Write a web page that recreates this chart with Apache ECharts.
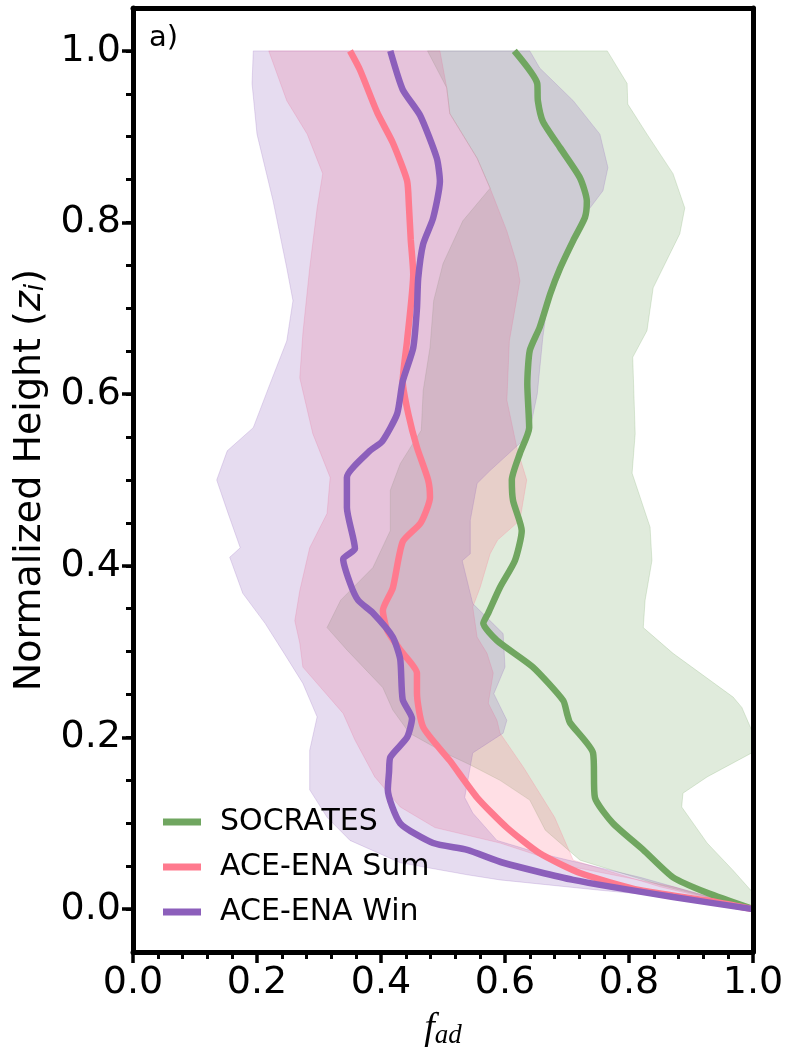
<!DOCTYPE html>
<html lang="en">
<head>
  <meta charset="UTF-8">
  <title>f_ad profiles</title>
  <style>
    html, body { margin: 0; padding: 0; background: #fff; }
    #main { width: 788px; height: 1053px; }
  </style>
</head>
<body>
  <div id="main"></div>
  <script src="https://cdn.jsdelivr.net/npm/echarts@6/dist/echarts.min.js"></script>
  <script>
    // --- data (height z_i, f_ad) ---
    const yTicks = [0, 0.2, 0.4, 0.6, 0.8, 1.0]
    const yMinorTicks = [0, 0.05, 0.1, 0.15, 0.2, 0.25, 0.3, 0.35, 0.4, 0.45, 0.5, 0.55, 0.6, 0.65, 0.7, 0.75, 0.8, 0.85, 0.9, 0.95, 1.0]
    const names = ['SOCRATES', 'ACE-ENA Sum', 'ACE-ENA Win']

    // SOCRATES median line
    const socH = [1.0, 0.962, 0.942, 0.918, 0.887, 0.852, 0.825, 0.806, 0.779, 0.747, 0.717, 0.678, 0.651, 0.612, 0.561, 0.531, 0.50, 0.476, 0.441, 0.406, 0.375, 0.345, 0.333, 0.313, 0.282, 0.243, 0.228, 0.217, 0.182, 0.130, 0.100, 0.069, 0.037, 0.019, 0.0]
    const socF = [0.615, 0.652, 0.653, 0.661, 0.689, 0.721, 0.732, 0.729, 0.710, 0.689, 0.673, 0.656, 0.640, 0.636, 0.639, 0.624, 0.611, 0.613, 0.627, 0.616, 0.592, 0.573, 0.565, 0.587, 0.645, 0.694, 0.700, 0.705, 0.742, 0.745, 0.774, 0.823, 0.871, 0.926, 1.0]
    // ACE-ENA summer median line
    const sumH = [1.0, 0.978, 0.928, 0.893, 0.849, 0.82, 0.78, 0.74, 0.662, 0.615, 0.577, 0.538, 0.5, 0.48, 0.45, 0.428, 0.374, 0.348, 0.325, 0.302, 0.275, 0.252, 0.212, 0.173, 0.13, 0.095, 0.065, 0.042, 0.022, 0.01, 0.0]
    const sumF = [0.350, 0.366, 0.394, 0.419, 0.442, 0.445, 0.448, 0.452, 0.442, 0.435, 0.444, 0.458, 0.476, 0.479, 0.464, 0.435, 0.419, 0.403, 0.410, 0.431, 0.458, 0.458, 0.468, 0.511, 0.555, 0.603, 0.656, 0.721, 0.818, 0.926, 1.0]
    // ACE-ENA winter median line
    const winH = [1.0, 0.955, 0.925, 0.875, 0.848, 0.805, 0.775, 0.735, 0.70, 0.654, 0.615, 0.577, 0.545, 0.534, 0.503, 0.468, 0.42, 0.408, 0.38, 0.36, 0.345, 0.317, 0.291, 0.244, 0.222, 0.200, 0.177, 0.16, 0.139, 0.10, 0.077, 0.069, 0.054, 0.034, 0.014, 0.0]
    const winF = [0.415, 0.435, 0.463, 0.490, 0.495, 0.484, 0.468, 0.460, 0.458, 0.452, 0.435, 0.426, 0.402, 0.382, 0.345, 0.345, 0.358, 0.339, 0.350, 0.363, 0.387, 0.419, 0.431, 0.435, 0.450, 0.442, 0.415, 0.413, 0.411, 0.431, 0.484, 0.539, 0.597, 0.710, 0.871, 1.0]

    // spread bands: lower (lo) and upper (hi) edges, each with its own heights
    const socLoH = [1.0, 0.957, 0.927, 0.875, 0.84, 0.802, 0.752, 0.709, 0.654, 0.604, 0.558, 0.519, 0.488, 0.441, 0.398, 0.36, 0.328, 0.302, 0.258, 0.232, 0.205, 0.182, 0.168, 0.15, 0.127, 0.092, 0.057, 0.028, 0.0]
    const socLo = [0.475, 0.506, 0.511, 0.555, 0.576, 0.532, 0.500, 0.485, 0.479, 0.468, 0.465, 0.431, 0.415, 0.415, 0.387, 0.335, 0.313, 0.345, 0.403, 0.419, 0.446, 0.503, 0.544, 0.592, 0.640, 0.665, 0.721, 0.850, 1.0]
    const socHiH = [1.0, 0.962, 0.938, 0.903, 0.857, 0.817, 0.787, 0.724, 0.674, 0.643, 0.554, 0.508, 0.445, 0.406, 0.36, 0.328, 0.298, 0.247, 0.235, 0.205, 0.182, 0.154, 0.135, 0.119, 0.077, 0.045, 0.019, 0.0]
    const socHi = [0.765, 0.797, 0.798, 0.829, 0.871, 0.890, 0.882, 0.839, 0.829, 0.806, 0.810, 0.805, 0.834, 0.837, 0.826, 0.823, 0.871, 0.968, 0.982, 1.0, 0.998, 0.926, 0.887, 0.885, 0.926, 0.968, 1.0, 1.0]

    const sumLoH = [1.0, 0.942, 0.903, 0.857, 0.817, 0.747, 0.671, 0.619, 0.554, 0.503, 0.461, 0.421, 0.371, 0.336, 0.31, 0.282, 0.228, 0.197, 0.154, 0.119, 0.095, 0.077, 0.049, 0.026, 0.0]
    const sumLo = [0.219, 0.248, 0.281, 0.306, 0.297, 0.285, 0.274, 0.269, 0.290, 0.318, 0.313, 0.285, 0.269, 0.261, 0.269, 0.274, 0.339, 0.358, 0.390, 0.431, 0.487, 0.592, 0.710, 0.871, 1.0]
    const sumHiH = [1.0, 0.957, 0.927, 0.875, 0.84, 0.79, 0.752, 0.732, 0.662, 0.593, 0.538, 0.5, 0.453, 0.43, 0.414, 0.375, 0.352, 0.317, 0.298, 0.275, 0.24, 0.22, 0.205, 0.165, 0.107, 0.057, 0.026, 0.0]
    const sumHi = [0.495, 0.506, 0.511, 0.555, 0.576, 0.603, 0.619, 0.624, 0.607, 0.603, 0.619, 0.635, 0.624, 0.588, 0.576, 0.560, 0.548, 0.555, 0.571, 0.581, 0.573, 0.587, 0.592, 0.630, 0.680, 0.710, 0.850, 1.0]

    const winLoH = [1.0, 0.962, 0.903, 0.825, 0.747, 0.709, 0.662, 0.612, 0.561, 0.534, 0.5, 0.464, 0.421, 0.41, 0.368, 0.333, 0.30, 0.263, 0.224, 0.185, 0.139, 0.107, 0.08, 0.054, 0.04, 0.034, 0.022, 0.014, 0.0]
    const winLo = [0.194, 0.192, 0.200, 0.226, 0.248, 0.258, 0.248, 0.221, 0.194, 0.152, 0.135, 0.152, 0.173, 0.156, 0.177, 0.213, 0.242, 0.274, 0.297, 0.285, 0.285, 0.313, 0.350, 0.431, 0.539, 0.592, 0.753, 0.871, 1.0]
    const winHiH = [1.0, 0.98, 0.942, 0.903, 0.864, 0.837, 0.814, 0.767, 0.709, 0.666, 0.60, 0.558, 0.546, 0.511, 0.496, 0.453, 0.414, 0.406, 0.356, 0.321, 0.282, 0.251, 0.22, 0.205, 0.182, 0.130, 0.112, 0.08, 0.065, 0.037, 0.0]
    const winHi = [0.640, 0.656, 0.710, 0.753, 0.766, 0.758, 0.734, 0.697, 0.669, 0.661, 0.652, 0.640, 0.629, 0.576, 0.555, 0.544, 0.544, 0.531, 0.548, 0.597, 0.600, 0.582, 0.603, 0.597, 0.548, 0.535, 0.548, 0.587, 0.656, 0.818, 1.0]

    const colors = ['#70a660', '#ff7a8e', '#8c5fbb']
    const fills = ['rgba(112,166,96,0.22)', 'rgba(255,110,135,0.22)', 'rgba(140,95,187,0.22)']
    const font = 'DejaVu Sans'

    function pairs(f, h) {
      return f.map((v, i) => [v, h[i]])
    }

    // one polygon per band, corners through the axis scales
    function band(lo, loH, hi, hiH, fill) {
      return function (params, api) {
        const pts = []
        for (let i = 0; i < lo.length; i++) pts.push(api.coord([lo[i], loH[i]]))
        for (let j = hi.length - 1; j >= 0; j--) pts.push(api.coord([hi[j], hiH[j]]))
        return {
          type: 'polygon',
          shape: { points: pts },
          style: { fill: fill, stroke: fill, lineWidth: 1 }
        }
      }
    }

    const myChart = echarts.init(document.getElementById('main'))

    const frameLine = { show: true, onZero: false, lineStyle: { color: '#000', width: 5 } }

    const option = {
      animation: false,
      backgroundColor: '#fff',
      grid: { left: 133, right: 35, top: 8, bottom: 101, outerBoundsMode: 'none', containLabel: false },
      graphic: [{
        type: 'text', left: 149, top: 24, z: 20,
        style: { text: 'a)', font: '29px "DejaVu Sans"', fill: '#000' }
      }],
      legend: {
        data: names,
        orient: 'vertical',
        left: 158,
        top: 802,
        icon: 'rect',
        itemWidth: 38,
        itemHeight: 7,
        itemGap: 15,
        textStyle: { fontFamily: font, fontSize: 30, color: '#000', lineHeight: 30, padding: [0, 0, 0, 14] }
      },
      xAxis: [{
        type: 'value', min: 0, max: 1, interval: 0.2, z: 10,
        axisLine: frameLine,
        axisTick: { show: true, length: 11, lineStyle: { color: '#000', width: 3.5 } },
        minorTick: { show: true, splitNumber: 5, length: 7, lineStyle: { color: '#000', width: 3 } },
        splitLine: { show: false },
        axisLabel: { fontFamily: font, fontSize: 38, color: '#000', margin: 12, formatter: v => v.toFixed(1) },
        name: '{f|f}{s|ad}',
        nameLocation: 'middle',
        nameGap: 58,
        nameTextStyle: {
          rich: {
            f: { fontFamily: 'Liberation Serif', fontStyle: 'italic', fontSize: 38, color: '#000' },
            s: { fontFamily: 'Liberation Serif', fontStyle: 'italic', fontSize: 27, color: '#000', verticalAlign: 'bottom', padding: [12, 0, 0, 0] }
          }
        }
      }, {
        type: 'value', min: 0, max: 1, position: 'top', z: 10,
        axisLine: frameLine, axisTick: { show: false }, axisLabel: { show: false }, splitLine: { show: false }
      }],
      yAxis: [{
        type: 'value', min: -0.05, max: 1.05, z: 10,
        axisLine: frameLine,
        axisTick: { show: true, length: 11, customValues: yTicks, lineStyle: { color: '#000', width: 3.5 } },
        splitLine: { show: false },
        axisLabel: { fontFamily: font, fontSize: 38, color: '#000', margin: 12, customValues: yTicks, formatter: v => v.toFixed(1) },
        name: '{t|Normalized Height (}{v|z}{s|i}{t|)}',
        nameLocation: 'middle',
        nameRotate: 90,
        nameGap: 80,
        nameTextStyle: {
          rich: {
            t: { fontFamily: font, fontSize: 38, color: '#000' },
            v: { fontFamily: font, fontStyle: 'italic', fontSize: 38, color: '#000' },
            s: { fontFamily: font, fontStyle: 'italic', fontSize: 27, color: '#000', verticalAlign: 'bottom', padding: [12, 0, 0, 0] }
          }
        }
      }, {
        type: 'value', min: -0.05, max: 1.05, position: 'left', z: 10,
        axisLine: { show: false },
        axisTick: { show: true, length: 7, customValues: yMinorTicks, lineStyle: { color: '#000', width: 3 } },
        axisLabel: { show: false }, splitLine: { show: false }
      }, {
        type: 'value', min: -0.05, max: 1.05, position: 'right', z: 10,
        axisLine: frameLine, axisTick: { show: false }, axisLabel: { show: false }, splitLine: { show: false }
      }],
      series: [
        { name: 'band-soc', type: 'custom', clip: true, z: 1, silent: true, data: [[0.5, 0.5]], renderItem: band(socLo, socLoH, socHi, socHiH, fills[0]) },
        { name: 'band-sum', type: 'custom', clip: true, z: 1, silent: true, data: [[0.5, 0.5]], renderItem: band(sumLo, sumLoH, sumHi, sumHiH, fills[1]) },
        { name: 'band-win', type: 'custom', clip: true, z: 1, silent: true, data: [[0.5, 0.5]], renderItem: band(winLo, winLoH, winHi, winHiH, fills[2]) },
        { name: names[0], type: 'line', z: 3, showSymbol: false, clip: true, smooth: 0.2, data: pairs(socF, socH), itemStyle: { color: colors[0] }, lineStyle: { color: colors[0], width: 6.5 } },
        { name: names[1], type: 'line', z: 4, showSymbol: false, clip: true, smooth: 0.2, data: pairs(sumF, sumH), itemStyle: { color: colors[1] }, lineStyle: { color: colors[1], width: 6.5 } },
        { name: names[2], type: 'line', z: 5, showSymbol: false, clip: true, smooth: 0.2, data: pairs(winF, winH), itemStyle: { color: colors[2] }, lineStyle: { color: colors[2], width: 6.5 } }
      ]
    }

    myChart.setOption(option)
  </script>
</body>
</html>
